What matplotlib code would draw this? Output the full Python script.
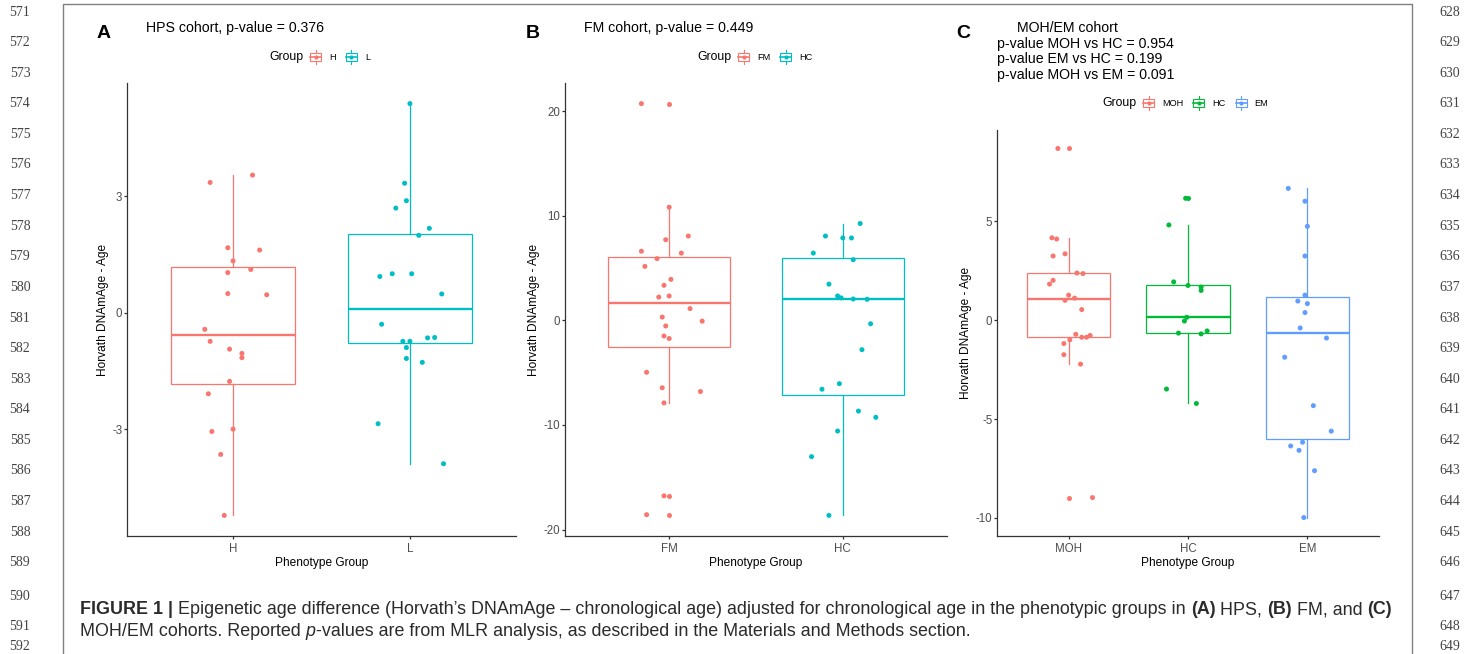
import numpy as np
import matplotlib
matplotlib.use("Agg")
import matplotlib.pyplot as plt
from matplotlib.patches import Rectangle

plt.rcParams['font.family'] = ['Liberation Sans', 'DejaVu Sans']
plt.rcParams['axes.unicode_minus'] = False

# ---- data (values and horizontal jitter offsets) ----
# A: HPS cohort
hps_groups = ["H", "L"]
hps_H = [3.35, 3.54, 1.67, 1.61, 1.33, 1.03, 1.11, 0.49, 0.46, -0.43,
         -0.74, -0.94, -1.05, -1.16, -1.77, -2.09, -3.06, -3.00, -3.65, -5.22]
hps_H_dx = [-0.13, 0.11, -0.03, 0.15, 0.0, -0.03, 0.10, -0.03, 0.19, -0.16,
            -0.13, -0.02, 0.05, 0.05, -0.02, -0.14, -0.12, 0.0, -0.07, -0.05]
hps_L = [5.38, 3.33, 2.88, 2.69, 2.17, 1.99, 0.93, 1.00, 1.00, 0.48,
         -0.30, -0.74, -0.74, -0.90, -0.65, -0.64, -1.18, -1.28, -2.86, -3.89]
hps_L_dx = [0.0, -0.03, -0.02, -0.08, 0.11, 0.05, -0.17, -0.10, 0.01, 0.18,
            -0.16, -0.04, 0.0, -0.02, 0.10, 0.14, -0.02, 0.07, -0.18, 0.19]

# B: FM cohort
fm_groups = ["FM", "HC"]
fm_FM = [20.74, 10.83, 8.07, 7.72, 6.62, 6.44, 5.91, 5.17, 3.93, 3.36, 2.23, 2.34,
         1.13, 0.32, -0.07, -0.53, -1.49, -1.73, -4.96, -6.44, -6.80, -7.89, -16.78, -18.58]
fm_FM_dx = [-0.16, 0.0, 0.11, -0.02, -0.16, 0.07, -0.07, -0.14, 0.01, -0.03, -0.06, 0.0,
            0.12, -0.04, 0.19, -0.02, -0.03, 0.0, -0.13, -0.04, 0.18, -0.03, -0.03, -0.13]
fm_HC = [9.27, 8.07, 7.89, 7.89, 6.44, 5.81, 3.47, 2.34, 2.16, 2.05,
         2.02, -0.32, -2.80, -6.58, -6.05, -8.67, -9.27, -10.58, -13.03, -18.65]
fm_HC_dx = [0.10, -0.10, 0.0, 0.05, -0.17, 0.06, -0.08, -0.03, -0.01, 0.06,
            0.14, 0.16, 0.11, -0.12, -0.02, 0.09, 0.19, -0.03, -0.18, -0.08]

# C: MOH/EM cohort
me_groups = ["MOH", "HC", "EM"]
me_MOH = [8.69, 4.17, 4.11, 3.25, 3.36, 2.39, 2.36, 1.83, 2.02, 1.27, 1.12,
          1.01, 0.54, -0.71, -0.86, -0.86, -0.77, -0.99, -1.18, -1.74, -2.22, -8.97]
me_MOH_dx = [-0.09, -0.14, -0.10, -0.13, -0.03, 0.07, 0.12, -0.16, -0.13, 0.0, 0.05,
             -0.03, 0.11, 0.06, 0.11, 0.15, 0.18, 0.01, -0.04, -0.04, 0.10, 0.20]
me_HC = [6.17, 4.82, 1.94, 1.76, 1.68, 1.51, 0.15, -0.04, -0.65, -0.69, -0.54, -3.48, -4.21]
me_HC_dx = [-0.02, -0.16, -0.12, 0.0, 0.11, 0.11, -0.01, -0.03, -0.08, 0.11, 0.16, -0.18, 0.07]
me_EM = [6.67, 6.02, 4.75, 3.25, 1.27, 0.97, 0.84, 0.39, -0.39,
         -0.90, -1.87, -4.32, -5.61, -6.36, -6.58, -6.17, -7.61, -9.98]
me_EM_dx = [-0.16, -0.02, 0.0, -0.02, -0.02, -0.08, 0.0, -0.02, -0.06,
            0.16, -0.19, 0.05, 0.20, -0.14, -0.07, -0.04, 0.06, -0.03]

col2 = ["#F8766D", "#00BFC4"]
col3 = ["#F8766D", "#00BA38", "#619CFF"]

W, H = 1472, 654
fig = plt.figure(figsize=(W / 100, H / 100), dpi=100)
r = fig.canvas.get_renderer()

# background axes in pixel coordinates for page furniture
bg = fig.add_axes([0, 0, 1, 1])
bg.set_xlim(0, W)
bg.set_ylim(H, 0)
bg.axis("off")

# page frame
bg.plot([63, 63, 1412, 1412], [H, 4, 4, H], color="#808080", lw=1.0)

# line numbers
line_y = [12 + 30.6 * i for i in range(19)] + [597, 626, 646]
for i, yy in enumerate(line_y):
    bg.text(20, yy, str(571 + i), family="Liberation Serif", fontsize=10,
            color="#444444", ha="center", va="center")
    bg.text(1450, yy, str(628 + i), family="Liberation Serif", fontsize=10,
            color="#444444", ha="center", va="center")


def add_panel(x0, y0, x1, y1):
    return fig.add_axes([x0 / W, 1 - y1 / H, (x1 - x0) / W, (y1 - y0) / H])


def draw_panel(ax, names, vals_list, dx_list, colors, yticks):
    for i, (v, d, c) in enumerate(zip(vals_list, dx_list, colors)):
        pos = i + 1
        ax.boxplot(v, positions=[pos], widths=0.7, patch_artist=True, showcaps=False,
                   boxprops=dict(facecolor="white", edgecolor=c, linewidth=0.9),
                   whiskerprops=dict(color=c, linewidth=0.9),
                   medianprops=dict(color=c, linewidth=1.7),
                   flierprops=dict(marker="o", markerfacecolor=c, markeredgecolor="none",
                                   markersize=3.6),
                   zorder=2)
        ax.scatter(pos + np.array(d), v, s=13, color=c, edgecolors="none", zorder=3)
    allv = np.concatenate([np.array(v) for v in vals_list])
    lo, hi = allv.min(), allv.max()
    pad = 0.05 * (hi - lo)
    ax.set_ylim(lo - pad, hi + pad)
    ax.set_xlim(0.4, len(names) + 0.6)
    ax.set_xticks(range(1, len(names) + 1), names)
    ax.set_yticks(yticks)
    for s in ["top", "right"]:
        ax.spines[s].set_visible(False)
    for s in ["left", "bottom"]:
        ax.spines[s].set_color("#333333")
        ax.spines[s].set_linewidth(0.9)
    ax.tick_params(length=2.4, width=0.9, color="#333333", labelsize=8.3,
                   labelcolor="#4D4D4D")
    ax.tick_params(axis="y", pad=1)
    ax.tick_params(axis="x", pad=2.5)
    ax.set_xlabel("Phenotype Group", fontsize=8.6, labelpad=1.5)
    ax.set_ylabel("Horvath DNAmAge - Age", fontsize=8.6, labelpad=2.5)
    ax.patch.set_alpha(0)


def legend(x, y, labels, colors):
    t = bg.text(x, y, "Group", fontsize=8.8, va="center", ha="left")
    x += t.get_window_extent(r).width + 6
    for lab, c in zip(labels, colors):
        kw = 13
        bg.plot([x + kw / 2] * 2, [y - 7, y + 7], color=c, lw=0.8, zorder=2)
        bg.add_patch(Rectangle((x + 1, y - 4), kw - 2, 8, facecolor="white",
                               edgecolor=c, lw=0.8, zorder=3))
        bg.plot([x + 1, x + kw - 1], [y, y], color=c, lw=1.2, zorder=4)
        bg.plot([x + kw / 2], [y], "o", color=c, ms=3, mec="none", zorder=5)
        x += kw + 7
        t = bg.text(x, y, lab, fontsize=6.6, va="center", ha="left")
        x += t.get_window_extent(r).width + 9


axA = add_panel(127, 83, 516, 536)
draw_panel(axA, hps_groups, [hps_H, hps_L], [hps_H_dx, hps_L_dx], col2, [-3, 0, 3])
axB = add_panel(565, 83, 947, 536)
draw_panel(axB, fm_groups, [fm_FM, fm_HC], [fm_FM_dx, fm_HC_dx], col2, [-20, -10, 0, 10, 20])
axC = add_panel(997, 130, 1379, 536)
draw_panel(axC, me_groups, [me_MOH, me_HC, me_EM], [me_MOH_dx, me_HC_dx, me_EM_dx],
           col3, [-10, -5, 0, 5])

# panel letters, titles, legends
for lx, let in [(104, "A"), (533, "B"), (963, "C")]:
    bg.text(lx, 33, let, fontsize=14, fontweight="bold", ha="center", va="center")
bg.text(146, 28, "HPS cohort, p-value = 0.376", fontsize=10.2, va="center")
bg.text(584, 28, "FM cohort, p-value = 0.449", fontsize=10.2, va="center")
c_title = ["MOH/EM cohort", "p-value MOH vs HC = 0.954",
           "p-value EM vs HC = 0.199", "p-value MOH vs EM = 0.091"]
for k, line in enumerate(c_title):
    bg.text(1017 if k == 0 else 997, 28 + 15.6 * k, line, fontsize=10.2, va="center")

legend(269, 57, hps_groups, col2)
legend(697, 57, fm_groups, col2)
legend(1102, 103, me_groups, col3)


# caption with mixed styles
def flow(x, y, parts, size=12.9, color="#2b2b2b"):
    for text, weight, style in parts:
        bg.text(x, y, text, fontsize=size, fontweight=weight, fontstyle=style,
                color=color, va="center", ha="left")
        probe = bg.text(0, 0, text + "x", fontsize=size, fontweight=weight, fontstyle=style)
        probe2 = bg.text(0, 0, "x", fontsize=size, fontweight=weight, fontstyle=style)
        x += probe.get_window_extent(r).width - probe2.get_window_extent(r).width
        probe.remove()
        probe2.remove()


flow(80, 610, [("FIGURE 1 | ", "bold", "normal"),
               ("Epigenetic age difference (Horvath\u2019s DNAmAge \u2013 chronological age) "
                "adjusted for chronological age in the phenotypic groups in ", "normal", "normal"),
               ("(A)", "bold", "normal"), (" HPS, ", "normal", "normal"),
               ("(B)", "bold", "normal"), (" FM, and ", "normal", "normal"),
               ("(C)", "bold", "normal")])
flow(80, 631, [("MOH/EM cohorts. Reported ", "normal", "normal"),
               ("p", "normal", "italic"),
               ("-values are from MLR analysis, as described in the Materials and "
                "Methods section.", "normal", "normal")])

fig.savefig("out.png", dpi=100)
